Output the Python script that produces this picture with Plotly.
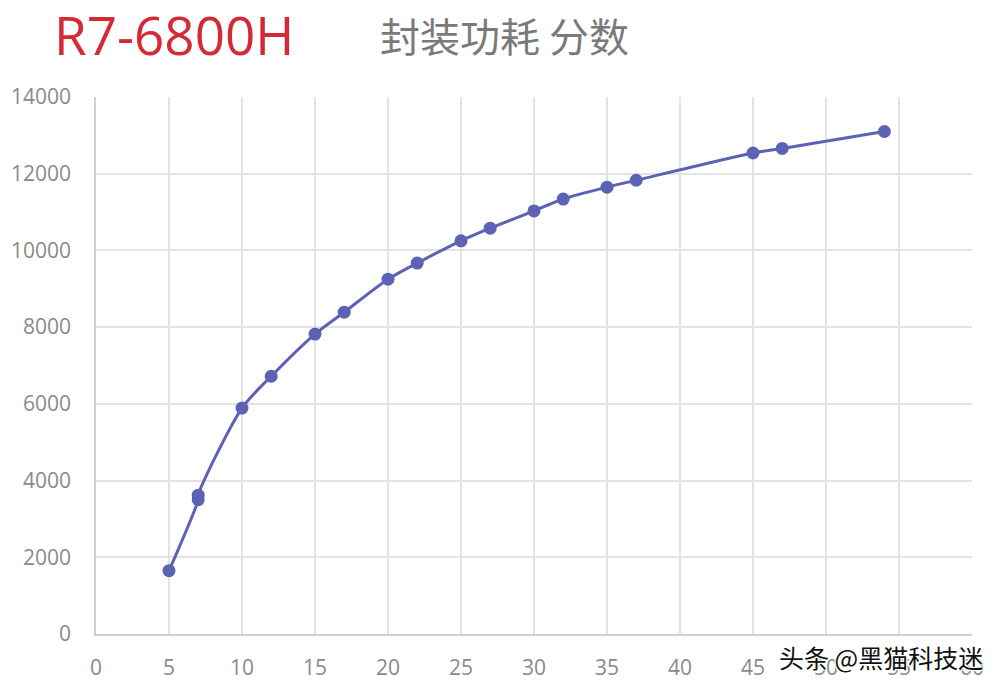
import plotly.graph_objects as go

power_w = [5, 7, 7, 10, 12, 15, 17, 20, 22, 25, 27, 30, 32, 35, 37, 45, 47, 54]
score = [1650, 3500, 3620, 5890, 6720, 7820, 8390, 9250, 9670, 10250, 10580,
         11030, 11340, 11650, 11830, 12540, 12660, 13100]
x_ticks = list(range(0, 61, 5))
y_ticks = list(range(0, 14001, 2000))
y_tick_text = [str(v) for v in y_ticks]

fig = go.Figure()
fig.add_trace(go.Scatter(
    x=power_w, y=score, mode="lines+markers",
    line=dict(color="#5c62b4", width=3, shape="spline", smoothing=0.8),
    marker=dict(color="#5c62b4", size=13),
    showlegend=False,
))

axis_font = dict(family="Open Sans, DejaVu Sans, sans-serif", size=21, color="#8a8a8a")
fig.update_xaxes(range=[0, 60], tickvals=x_ticks, showgrid=True, gridcolor="#e3e3e3",
                 gridwidth=1.5, zeroline=False, showline=True, linecolor="#d0d0d0",
                 linewidth=1.5, tickfont=axis_font, ticks="", ticklabelstandoff=14,
                 automargin=False)
fig.update_yaxes(range=[0, 14000], tickvals=y_ticks, ticktext=y_tick_text,
                 showgrid=True, gridcolor="#e3e3e3",
                 gridwidth=1.5, zeroline=False, showline=True, linecolor="#d0d0d0",
                 linewidth=1.5, tickfont=axis_font, ticks="outside", ticklen=19,
                 tickcolor="rgba(0,0,0,0)", automargin=False)

fig.update_layout(
    width=1008, height=686,
    margin=dict(l=88, r=44, t=89, b=60),
    paper_bgcolor="white", plot_bgcolor="white",
    annotations=[
        dict(text="R7-6800H", xref="paper", yref="paper", x=-0.050, y=1.1155,
             xanchor="left", yanchor="middle", showarrow=False,
             font=dict(family="Open Sans, DejaVu Sans, sans-serif", size=53, color="#d42a35")),
        dict(text="封装功耗 分数", xref="paper", yref="paper", x=0.322, y=1.1155,
             xanchor="left", yanchor="middle", showarrow=False,
             font=dict(family="Noto Sans CJK SC, sans-serif", size=40, color="#7a7a7a")),
        dict(text="头条 @黑猫科技迷", xref="paper", yref="paper", x=1.0148, y=-0.043,
             xanchor="right", yanchor="middle", showarrow=False,
             font=dict(family="Noto Sans CJK SC, sans-serif", size=25, color="#111111",
                       shadow="1px 1px 1px white, -1px -1px 1px white, 1px -1px 1px white, -1px 1px 1px white")),
    ],
)

fig.write_html("out.html")
